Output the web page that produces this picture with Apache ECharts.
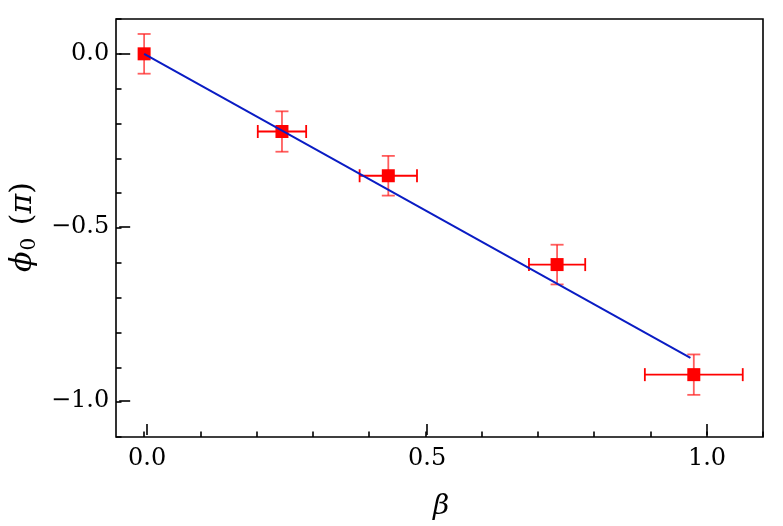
<!DOCTYPE html>
<html>
<head>
<meta charset="utf-8">
<script src="https://cdn.jsdelivr.net/npm/echarts@6/dist/echarts.min.js"></script>
<style>html,body{margin:0;padding:0;background:#fff}#c{width:783px;height:526px}</style>
</head>
<body>
<div id="c"></div>
<script>
// Data
const beta    = [0.000, 0.245, 0.434, 0.734, 0.977];
const phi0    = [0.000, -0.223, -0.350, -0.605, -0.921];
const betaErr = [0.000, 0.043, 0.051, 0.050, 0.087];
const phiErr  = [0.057, 0.058, 0.057, 0.057, 0.058];
const fitBeta = [0.000, 0.971];
const fitPhi  = [0.000, -0.873];
// Tick labels and tick steps
const xTickLabels = [0.0, 0.5, 1.0];
const yTickLabels = [0.0, -0.5, -1.0];
const xMinorStep = 0.1, yMinorStep = 0.1;
const xRange = {min: -0.05, max: 1.1};
const yRange = {min: -1.1, max: 0.1};

const FONT = 'DejaVu Serif';
const chart = echarts.init(document.getElementById('c'));

// Category positions for tick drawing (evenly spaced slots spanning the axis range)
function slots(min, max, step) {
  const n = Math.round((max - min) / step);
  const out = [];
  for (let i = 0; i <= n; i++) out.push(+(min + i * step).toFixed(4));
  return out;
}
const xSlots = slots(xRange.min, xRange.max, 0.05);
const ySlots = slots(yRange.min, yRange.max, 0.05);

function near(v, list) { return list.some(t => Math.abs(t - v) < 1e-6); }
function isMultiple(v, step) { const q = v / step; return Math.abs(q - Math.round(q)) < 1e-6; }
function fmt(v) { return (v < -1e-12 ? '\u2212' : '') + Math.abs(v).toFixed(1); }

const points = beta.map((b, i) => [b, phi0[i], betaErr[i], phiErr[i]]);
const fitLine = fitBeta.map((b, i) => [b, fitPhi[i]]);

const gridRect = {left: 116, right: 20, top: 19, bottom: 89};
const tickStyle = {color: '#000', width: 1.6};
const noLine = {show: false, onZero: false};

chart.setOption({
  animation: false,
  backgroundColor: '#fff',
  grid: [
    {...gridRect, show: true, borderColor: '#000', borderWidth: 1.6, backgroundColor: 'transparent'},
    {...gridRect},
    {...gridRect}
  ],
  xAxis: [
    {type: 'value', gridIndex: 0, ...xRange, show: false, axisLine: noLine},
    {type: 'category', gridIndex: 1, data: xSlots.map(String), boundaryGap: false, position: 'bottom',
     axisLine: noLine, splitLine: {show: false},
     axisTick: {show: true, inside: true, length: 11, lineStyle: tickStyle,
                interval: (i, v) => near(+v, xTickLabels)},
     axisLabel: {show: true, margin: 12, color: '#000', fontFamily: FONT, fontSize: 24,
                 interval: (i, v) => near(+v, xTickLabels), formatter: v => fmt(+v)},
     name: 'β', nameLocation: 'middle', nameGap: 58,
     nameTextStyle: {fontFamily: FONT, fontStyle: 'italic', fontSize: 28, color: '#000'}},
    {type: 'category', gridIndex: 2, data: xSlots.map(String), boundaryGap: false, position: 'bottom',
     axisLine: noLine, splitLine: {show: false},
     axisTick: {show: true, inside: true, length: 5.5, lineStyle: tickStyle,
                interval: (i, v) => isMultiple(+v, xMinorStep)},
     axisLabel: {show: false}}
  ],
  yAxis: [
    {type: 'value', gridIndex: 0, ...yRange, show: false, axisLine: noLine},
    {type: 'category', gridIndex: 1, data: ySlots.map(String), boundaryGap: false, position: 'left',
     axisLine: noLine, splitLine: {show: false},
     axisTick: {show: true, inside: true, length: 11, lineStyle: tickStyle,
                interval: (i, v) => near(+v, yTickLabels)},
     axisLabel: {show: true, margin: 10, color: '#000', fontFamily: FONT, fontSize: 24,
                 interval: (i, v) => near(+v, yTickLabels), formatter: v => fmt(+v)},
     name: '{i|ϕ}{s|0}{n| (}{i|π}{n|)}', nameLocation: 'middle', nameGap: 76, nameRotate: 90,
     nameTextStyle: {color: '#000', fontFamily: FONT, fontSize: 30,
       rich: {
         i: {fontFamily: FONT, fontStyle: 'italic', fontSize: 30, color: '#000'},
         s: {fontFamily: FONT, fontSize: 20, color: '#000', verticalAlign: 'bottom', padding: [14, 3, 0, 1]},
         n: {fontFamily: FONT, fontSize: 30, color: '#000'}
       }}},
    {type: 'category', gridIndex: 2, data: ySlots.map(String), boundaryGap: false, position: 'left',
     axisLine: noLine, splitLine: {show: false},
     axisTick: {show: true, inside: true, length: 5.5, lineStyle: tickStyle,
                interval: (i, v) => isMultiple(+v, yMinorStep)},
     axisLabel: {show: false}}
  ],
  series: [
    {
      type: 'custom', xAxisIndex: 0, yAxisIndex: 0, z: 1,
      data: points,
      renderItem: function (params, api) {
        const x = api.value(0), y = api.value(1), ex = api.value(2), ey = api.value(3);
        const cap = 6.5;
        const children = [];
        const solid = {stroke: '#ff0000', lineWidth: 1.8};
        const soft = {stroke: 'rgba(255,30,30,0.72)', lineWidth: 1.8};
        if (ex > 0) {
          const l = api.coord([x - ex, y]), r = api.coord([x + ex, y]);
          children.push({type: 'line', shape: {x1: l[0], y1: l[1], x2: r[0], y2: r[1]}, style: solid});
          children.push({type: 'line', shape: {x1: l[0], y1: l[1] - cap, x2: l[0], y2: l[1] + cap}, style: solid});
          children.push({type: 'line', shape: {x1: r[0], y1: r[1] - cap, x2: r[0], y2: r[1] + cap}, style: solid});
        }
        const t = api.coord([x, y + ey]), b = api.coord([x, y - ey]);
        children.push({type: 'line', shape: {x1: t[0], y1: t[1], x2: b[0], y2: b[1]}, style: soft});
        children.push({type: 'line', shape: {x1: t[0] - cap, y1: t[1], x2: t[0] + cap, y2: t[1]}, style: soft});
        children.push({type: 'line', shape: {x1: b[0] - cap, y1: b[1], x2: b[0] + cap, y2: b[1]}, style: soft});
        return {type: 'group', children};
      }
    },
    {
      type: 'scatter', xAxisIndex: 0, yAxisIndex: 0, z: 2,
      symbol: 'rect', symbolSize: 13,
      itemStyle: {color: '#ff0000', opacity: 1},
      data: points.map(p => [p[0], p[1]])
    },
    {
      type: 'line', xAxisIndex: 0, yAxisIndex: 0, z: 3,
      data: fitLine, showSymbol: false, symbol: 'none',
      lineStyle: {color: '#0a1cc4', width: 2}
    }
  ]
});
</script>
</body>
</html>
